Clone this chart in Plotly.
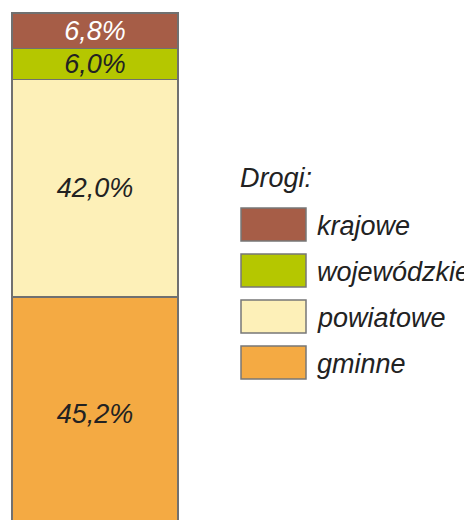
import plotly.graph_objects as go

categories = ["gminne", "powiatowe", "wojewódzkie", "krajowe"]
values = [45.2, 42.0, 6.0, 6.8]
labels = ["45,2%", "42,0%", "6,0%", "6,8%"]
colors = ["#F4AA43", "#FDF0B8", "#B5C700", "#A65D47"]
text_colors = ["#222222", "#222222", "#222222", "#FFFFFF"]
legend_order = ["krajowe", "wojewódzkie", "powiatowe", "gminne"]
legend_title = "Drogi:"

W, H = 472, 520
OFF = 8  # page body margin
T = 10 - OFF
B = OFF
FONT = "Liberation Sans, Arial, Helvetica, sans-serif"
FS = 27

fig = go.Figure()
for cat, v, lab, c, tc in zip(categories, values, labels, colors, text_colors):
    fig.add_trace(go.Bar(
        x=[0], y=[v], width=1, name=cat,
        marker=dict(color=c, line=dict(color="#707070", width=1.5)),
        text=[lab], textposition="inside", insidetextanchor="middle",
        constraintext="none",
        textfont=dict(family=FONT, size=FS, color=tc, style="italic"),
        hoverinfo="skip", showlegend=False,
    ))

def px(x):
    return (x - OFF) / W

def py(y):
    return (520 - y) / 510

shapes = []
annotations = [dict(
    x=px(238), y=py(178), xref="paper", yref="paper", text=legend_title,
    showarrow=False, xanchor="left", yanchor="middle",
    font=dict(family=FONT, size=FS, color="#222222", style="italic"))]
sw_tops = [208, 254, 300, 346]
col_map = dict(zip(categories, colors))
for name, top in zip(legend_order, sw_tops):
    shapes.append(dict(
        type="rect", xref="paper", yref="paper",
        x0=px(241), x1=px(306), y0=py(top), y1=py(top + 33),
        fillcolor=col_map[name], line=dict(color="#777777", width=1.5)))
    annotations.append(dict(
        x=px(315), y=py(top + 18), xref="paper", yref="paper", text=name,
        showarrow=False, xanchor="left", yanchor="middle",
        font=dict(family=FONT, size=FS, color="#222222", style="italic")))

bl = 12 - OFF
br = 178 - OFF
fig.update_layout(
    barmode="stack",
    width=W, height=H,
    margin=dict(l=0, r=0, t=T, b=B),
    paper_bgcolor="white", plot_bgcolor="white",
    xaxis=dict(range=[-0.5 - bl / 166, 0.5 + (W - br) / 166], visible=False, fixedrange=True),
    yaxis=dict(range=[2.2, 100.58], visible=False, fixedrange=True),
    shapes=shapes, annotations=annotations,
    showlegend=False,
)

fig.write_html("out.html")
